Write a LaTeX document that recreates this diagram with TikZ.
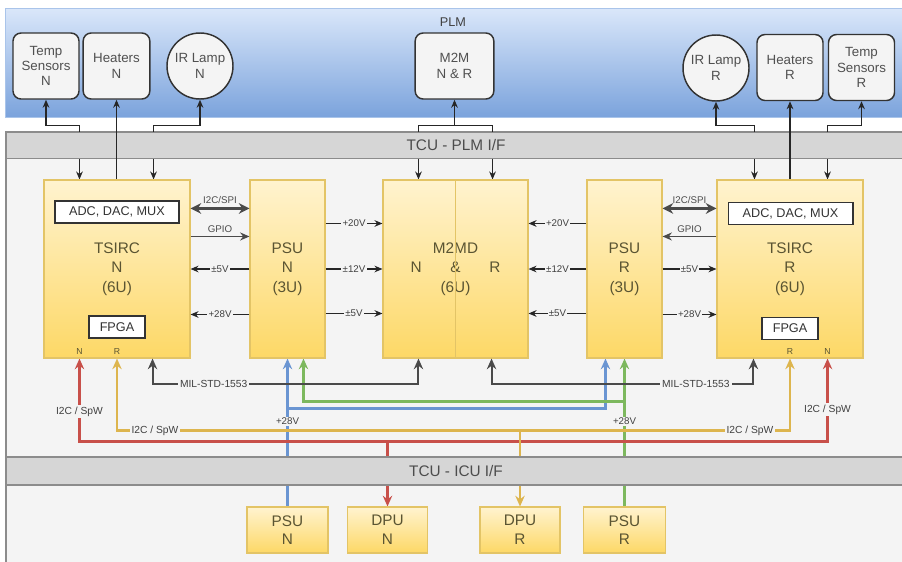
\documentclass[tikz,border=0pt]{standalone}
\usepackage{fontspec}
\setmainfont{Liberation Sans}
\usepackage{tikz}
\usetikzlibrary{arrows.meta, positioning, calc, backgrounds}
\definecolor{PlmTop}{HTML}{DAE7FA}
\definecolor{PlmBottom}{HTML}{7BA3DC}
\definecolor{PlmEdge}{HTML}{A9C4EA}
\definecolor{BandGray}{HTML}{D6D6D6}
\definecolor{BandLine}{HTML}{8C8C8C}
\definecolor{TcuFill}{HTML}{F4F4F4}
\definecolor{UnitTop}{HTML}{FFF3CF}
\definecolor{UnitBottom}{HTML}{FDD866}
\definecolor{UnitLine}{HTML}{E3C466}
\definecolor{UnitText}{HTML}{5A5432}
\definecolor{DevText}{HTML}{505050}
\definecolor{WireGray}{HTML}{4A4A4A}
\definecolor{LinkRed}{HTML}{C8504A}
\definecolor{LinkYellow}{HTML}{DDB54E}
\definecolor{LinkBlue}{HTML}{6A95D2}
\definecolor{LinkGreen}{HTML}{7DB85E}
\pgfdeclarelayer{wires}
\pgfsetlayers{background,wires,main}
\tikzset{
  devbox/.style={rectangle, rounded corners=6pt, draw=black!80, line width=1.1pt, fill=TcuFill, text=DevText, font=\fontsize{10}{11.5}\selectfont, align=center, minimum width=49.5pt, minimum height=49.5pt, inner sep=1pt},
  lampbox/.style={circle, draw=black!80, line width=1.1pt, fill=TcuFill, text=DevText, font=\fontsize{10}{11.5}\selectfont, align=center, minimum size=49.5pt, inner sep=0pt},
  unitbox/.style={rectangle, draw=UnitLine, line width=0.8pt, top color=UnitTop, bottom color=UnitBottom, text=UnitText, font=\fontsize{11.5}{14.6}\selectfont, align=center, minimum height=133.5pt},
  iobox/.style={rectangle, draw=UnitLine, line width=0.8pt, top color=UnitTop, bottom color=UnitBottom, text=UnitText, font=\fontsize{11.5}{14}\selectfont, align=center, minimum width=60pt, minimum height=34.5pt},
  chipbox/.style={rectangle, draw=black!80, line width=1pt, fill=white, text=black!80, font=\fontsize{9.5}{11}\selectfont, minimum height=16.5pt, inner sep=1pt},
  bandbox/.style={rectangle, draw=BandLine, line width=0.9pt, fill=BandGray, text=black!70, font=\fontsize{11.5}{13}\selectfont, minimum width=675pt},
  pinlabel/.style={text=UnitText, font=\fontsize{6.5}{7}\selectfont, inner sep=0pt},
  wirelabel/.style={fill=TcuFill, text=black!75, font=\fontsize{7.3}{8}\selectfont, inner sep=1pt},
  buslabel/.style={fill=TcuFill, text=black!75, font=\fontsize{7.7}{9}\selectfont, inner sep=1.5pt},
  toplabel/.style={text=black!70, font=\fontsize{7.3}{8}\selectfont, inner sep=1pt, above=1.5pt},
  plmwire/.style={draw=black!85, line width=0.9pt},
  buswire/.style={<->, draw=WireGray, line width=2pt, >={Stealth[length=8pt, width=8pt]}},
  gpiowire/.style={->, draw=WireGray, line width=1.3pt, >={Stealth[length=7pt, width=6pt]}},
  pwrwire/.style={->, draw=black!85, line width=0.9pt},
  milwire/.style={<->, draw=WireGray, line width=1.5pt, >={Stealth[length=8pt, width=7pt]}},
  colwire/.style={line width=1.6pt, >={Stealth[length=8pt, width=7pt]}}
}
\begin{document}
\begin{tikzpicture}[x=0.75pt, y=-0.75pt, >={Stealth[length=6pt, width=5pt]}]
  \useasboundingbox (0,0) rectangle (902,561);
  % PLM and TCU areas
  \begin{pgfonlayer}{background}
    \shadedraw[top color=PlmTop, bottom color=PlmBottom, draw=PlmEdge] (5,8) rectangle (910,117);
    \filldraw[fill=TcuFill, draw=BandLine, line width=0.9pt] (6,132) rectangle (910,570);
  \end{pgfonlayer}
  \node[font=\fontsize{9.5}{11}\selectfont, text=black!75] (plm) at (453,22) {PLM};

  % PLM units
  \node[devbox] (tempN) at (46,66) {Temp\\Sensors\\N};
  \node[devbox, minimum width=50pt] (heatN) at (116.5,66) {Heaters\\N};
  \node[lampbox] (lampN) at (200,66) {IR Lamp\\N};
  \node[devbox, minimum width=59pt] (m2m) at (454.5,66) {M2M\\N \& R};
  \node[lampbox] (lampR) at (716,68) {IR Lamp\\R};
  \node[devbox] (heatR) at (790,67.5) {Heaters\\R};
  \node[devbox] (tempR) at (861.5,67.5) {Temp\\Sensors\\R};

  % interface bands
  \node[bandbox, minimum height=19pt] (plmif) at (456,145.5) {TCU - PLM I/F};
  \node[bandbox, minimum height=21pt] (icuif) at (456,471) {TCU - ICU I/F};

  % TCU boards
  \node[unitbox, minimum width=109.5pt] (tsircN) at (117,269) {TSIRC\\N\\(6U)};
  \node[unitbox, minimum width=56.25pt] (psuN) at (287.5,269) {PSU\\N\\(3U)};
  \node[unitbox, minimum width=108.75pt] (m2md) at (455.5,269) {M2MD\\\makebox[67.5pt]{N\hfill\&\hfill R}\\(6U)};
  \node[unitbox, minimum width=56.25pt] (psuR) at (624.5,269) {PSU\\R\\(3U)};
  \node[unitbox, minimum width=109.5pt] (tsircR) at (790,269) {TSIRC\\R\\(6U)};
  \draw[UnitLine, line width=0.8pt] (m2md.north) -- (m2md.south);

  \node[chipbox, minimum width=93pt] (adcN) at (117,212) {ADC, DAC, MUX};
  \node[chipbox, minimum width=42pt] (fpgaN) at (117,327) {FPGA};
  \node[chipbox, minimum width=93.5pt] (adcR) at (790.5,213.5) {ADC, DAC, MUX};
  \node[chipbox, minimum width=42pt] (fpgaR) at (790,328.5) {FPGA};

  \node[pinlabel] (pinNn) at ($(tsircN.south west)+(36,-7)$) {N};
  \node[pinlabel] (pinNr) at ($(tsircN.south)+(0,-7)$) {R};
  \node[pinlabel] (pinRr) at ($(tsircR.south)+(0,-7)$) {R};
  \node[pinlabel] (pinRn) at ($(tsircR.south east)+(-36,-7)$) {N};

  % ICU units
  \node[iobox, minimum width=60.75pt] (psuNb) at (287.5,530) {PSU\\N};
  \node[iobox] (dpuN) at (387.5,530) {DPU\\N};
  \node[iobox] (dpuR) at (520,530) {DPU\\R};
  \node[iobox, minimum width=62pt] (psuRb) at (624.5,530) {PSU\\R};

  % wires running under the bands
  \begin{pgfonlayer}{wires}
    \draw[plmwire, <->] (tempN.south) -- ++(0,26) -| ($(tsircN.north west)+(36,0)$);
    \draw[plmwire, <->] (lampN.south) -- ++(0,26) -| ($(tsircN.north east)+(-37,0)$);
    \draw[plmwire, <-] (m2m.south) -- ++(0,26) coordinate (m2mfork);
    \draw[plmwire, ->] (m2mfork) -| ($(m2md.north west)+(36,0)$);
    \draw[plmwire, ->] (m2mfork) -| ($(m2md.north east)+(-36,0)$);
    \draw[plmwire, <->] (lampR.south) -- ++(0,24) -| ($(tsircR.north west)+(38,0)$);
    \draw[plmwire, <->] (tempR.south) -- ++(0,24) -| ($(tsircR.north east)+(-36,0)$);

    \draw[colwire, LinkBlue, ->] (psuNb.north) -- (psuN.south);
    \draw[colwire, LinkBlue, ->] ($(psuN.south)+(0,50)$) -| ($(psuR.south west)+(19,0)$);
    \draw[colwire, LinkGreen, ->] (psuRb.north) -- (psuR.south);
    \draw[colwire, LinkGreen, ->] ($(psuR.south)+(0,43)$) -| ($(psuN.south west)+(54,0)$);
    \node[wirelabel] (v28N) at ($(psuN.south)+(0,63)$) {+28V};
    \node[wirelabel] (v28R) at ($(psuR.south)+(0,63)$) {+28V};

    \draw[colwire, LinkRed, <->] ($(tsircN.south west)+(36,0)$) -- ++(0,83) -| ($(tsircR.south east)+(-36,0)$);
    \draw[colwire, LinkRed, ->] ($(dpuN.north)+(0,-66)$) -- (dpuN.north);
    \node[buslabel] (spwNn) at ($(tsircN.south west)+(36,53)$) {I2C / SpW};
    \node[buslabel] (spwRn) at ($(tsircR.south east)+(-36,51)$) {I2C / SpW};

    \draw[colwire, LinkYellow, <->] (tsircN.south) -- ++(0,72) -| (tsircR.south);
    \draw[colwire, LinkYellow, ->] ($(dpuR.north)+(0,-77)$) -- (dpuR.north);
    \node[buslabel] (spwNr) at ($(tsircN.south)+(38,72)$) {I2C / SpW};
    \node[buslabel] (spwRr) at ($(tsircR.south)+(-40,72)$) {I2C / SpW};
  \end{pgfonlayer}

  \draw[plmwire, <-] (heatN.south) -- (heatN.south |- tsircN.north);
  \draw[plmwire, <-] (heatR.south) -- (heatR.south |- tsircR.north);

  % TSIRC N <-> PSU N
  \draw[buswire] ($(tsircN.north east)+(0,29)$) -- node[toplabel] {I2C/SPI} ($(psuN.north west)+(0,29)$);
  \draw[gpiowire] ($(tsircN.north east)+(0,57)$) -- node[toplabel] {GPIO} ($(psuN.north west)+(0,57)$);
  \draw[pwrwire] (psuN.west) -- node[wirelabel] {±5V} (tsircN.east);
  \draw[pwrwire] ($(psuN.north west)+(0,135)$) -- node[wirelabel] {+28V} ($(tsircN.north east)+(0,135)$);

  % PSU N -> M2MD
  \draw[pwrwire] ($(psuN.north east)+(0,44)$) -- node[wirelabel] {+20V} ($(m2md.north west)+(0,44)$);
  \draw[pwrwire] (psuN.east) -- node[wirelabel] {±12V} (m2md.west);
  \draw[pwrwire] ($(psuN.north east)+(0,134)$) -- node[wirelabel] {±5V} ($(m2md.north west)+(0,134)$);

  % PSU R -> M2MD
  \draw[pwrwire] ($(psuR.north west)+(0,44)$) -- node[wirelabel] {+20V} ($(m2md.north east)+(0,44)$);
  \draw[pwrwire] (psuR.west) -- node[wirelabel] {±12V} (m2md.east);
  \draw[pwrwire] ($(psuR.north west)+(0,134)$) -- node[wirelabel] {±5V} ($(m2md.north east)+(0,134)$);

  % PSU R <-> TSIRC R
  \draw[buswire] ($(psuR.north east)+(0,29)$) -- node[toplabel] {I2C/SPI} ($(tsircR.north west)+(0,29)$);
  \draw[gpiowire] ($(tsircR.north west)+(0,57)$) -- node[toplabel] {GPIO} ($(psuR.north east)+(0,57)$);
  \draw[pwrwire] (psuR.east) -- node[wirelabel] {±5V} (tsircR.west);
  \draw[pwrwire] ($(psuR.north east)+(0,135)$) -- node[wirelabel] {+28V} ($(tsircR.north west)+(0,135)$);

  % MIL-STD-1553
  \draw[milwire] ($(tsircN.south east)+(-38,0)$) -- ++(0,25) -- node[pos=0.23, buslabel] {MIL-STD-1553} ($(m2md.south west)+(36,25)$) -- ($(m2md.south west)+(36,0)$);
  \draw[milwire] ($(m2md.south east)+(-37,0)$) -- ++(0,25) -- node[pos=0.78, buslabel] {MIL-STD-1553} ($(tsircR.south west)+(37,25)$) -- ($(tsircR.south west)+(37,0)$);
\end{tikzpicture}
\end{document}
